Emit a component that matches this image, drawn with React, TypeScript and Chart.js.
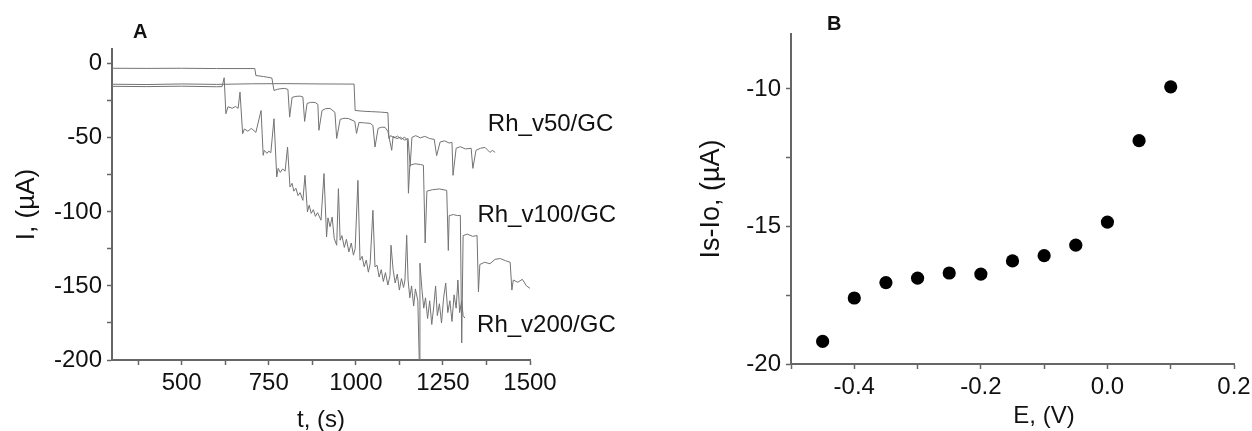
import React, { useEffect, useRef } from "react";
import { Chart, registerables } from "chart.js";

Chart.register(...registerables);

const FONT = "'Liberation Sans', Arial, Helvetica, sans-serif";
const TEXT = "#111111";
const AXIS = "#666666";
const LINE = "#737373";

// ---------- Panel A data ----------
const v50T = [300, 400, 500, 600, 710, 713, 735, 759, 765, 775, 785, 796, 805, 810, 817, 828, 840, 848, 853, 860, 870, 883, 891, 894, 903, 913, 926, 940, 945, 955, 966, 978, 997, 1002, 1009, 1025, 1041, 1049, 1055, 1064, 1074, 1084, 1092, 1103, 1107, 1118, 1128, 1140, 1150, 1156, 1161, 1172, 1185, 1198, 1212, 1225, 1232, 1242, 1255, 1268, 1276, 1279, 1288, 1300, 1315, 1331, 1336, 1345, 1358, 1371, 1385, 1392, 1400];
const v50I = [-3.0, -3.1, -3.0, -3.2, -3.2, -7.9, -8.6, -9.6, -18.0, -17.2, -16.8, -16.6, -17.3, -36.0, -22.7, -22.0, -21.8, -22.4, -38.9, -26.8, -26.0, -26.1, -27.4, -44.9, -31.5, -30.3, -30.1, -32.8, -50.4, -37.5, -36.8, -36.9, -38.9, -47.0, -39.6, -39.9, -40.2, -41.6, -56.2, -43.6, -42.8, -42.9, -45.6, -58.4, -49.0, -50.5, -49.5, -51.5, -50.5, -69.2, -49.7, -48.5, -50.0, -49.0, -50.5, -51.0, -62.0, -52.8, -52.0, -53.5, -53.0, -75.3, -57.0, -56.0, -57.5, -57.0, -70.6, -58.4, -57.0, -56.5, -59.8, -58.5, -59.8];

const v100T = [300, 400, 500, 600, 700, 800, 900, 995, 998, 1020, 1045, 1070, 1092, 1095, 1100, 1110, 1120, 1130, 1140, 1148, 1151, 1155, 1170, 1185, 1194, 1199, 1204, 1220, 1240, 1261, 1265.5, 1268, 1280, 1292, 1300, 1304, 1308, 1320, 1335, 1348, 1352, 1356, 1370, 1385, 1400, 1415, 1430, 1443, 1448, 1452, 1465, 1478, 1490, 1500];
const v100I = [-13.8, -14.0, -13.6, -13.9, -13.5, -13.4, -13.6, -13.7, -31.5, -32.0, -32.3, -32.6, -33.0, -50.4, -48.5, -50.0, -48.8, -51.0, -49.5, -51.5, -87.4, -68.5, -67.5, -68.0, -68.5, -121.0, -86.0, -85.0, -84.5, -85.5, -126.0, -102.5, -101.8, -102.5, -102.3, -188.5, -116.0, -115.0, -116.5, -116.0, -154.0, -135.5, -134.0, -135.0, -132.0, -131.5, -133.0, -134.0, -152.8, -146.0, -147.5, -145.5, -150.0, -151.6];

const v200T = [300, 400, 500, 600, 616, 622, 627, 633, 645, 655, 662, 667.5, 675, 680, 690, 700, 713, 728, 734, 737, 745, 750, 756, 765, 773, 777, 783, 790, 797, 804, 811, 817, 822, 828, 834, 840, 848, 854, 861, 866, 872, 878, 884, 890, 900, 908.6, 916, 920, 926, 932, 938, 945, 950, 955, 960, 967, 973, 980, 987, 993, 998, 1006, 1012, 1018, 1024, 1030, 1036, 1041, 1049, 1055, 1061, 1067, 1073, 1079, 1085, 1092, 1098, 1101, 1107, 1113, 1119, 1125, 1131, 1137, 1141, 1146, 1150, 1155, 1160, 1166, 1171, 1178, 1182, 1184, 1190, 1195, 1200, 1206, 1212, 1218, 1224, 1229, 1234, 1240, 1246, 1252, 1258, 1264, 1270, 1276, 1282, 1288, 1293, 1298, 1304, 1308, 1313];
const v200I = [-15.2, -15.4, -15.1, -15.5, -15.4, -9.4, -33.7, -29.0, -30.0, -28.8, -30.1, -19.1, -47.2, -44.0, -45.5, -43.6, -46.3, -31.5, -61.8, -58.4, -60.5, -59.0, -60.0, -37.1, -76.4, -70.6, -73.3, -71.0, -72.5, -56.2, -83.2, -80.7, -86.0, -84.0, -89.0, -87.0, -92.2, -75.3, -100.0, -95.5, -101.0, -98.5, -103.0, -100.5, -105.6, -74.1, -116.9, -104.0, -110.0, -103.5, -118.0, -122.5, -84.3, -119.1, -116.0, -124.0, -118.5, -127.0, -121.0, -129.2, -125.0, -78.7, -132.6, -130.0, -137.0, -132.5, -140.7, -135.0, -98.9, -137.1, -136.0, -144.0, -139.0, -147.0, -141.0, -149.4, -143.0, -122.5, -139.0, -148.0, -142.0, -152.8, -145.0, -151.0, -146.0, -115.8, -146.0, -158.0, -150.0, -163.6, -152.0, -160.0, -200.0, -134.6, -153.0, -165.0, -158.0, -172.0, -160.0, -176.0, -163.0, -150.0, -170.0, -162.0, -175.0, -158.0, -148.0, -168.0, -160.0, -174.0, -156.0, -165.0, -146.0, -168.0, -160.0, -170.0, -171.7];

const seriesNames = ["Rh_v50/GC", "Rh_v100/GC", "Rh_v200/GC"];
const nameAtT = [1379, 1349, 1348];
const nameAtI = [-45.6, -106.8, -181.0];

const aXTicks = [375, 500, 625, 750, 875, 1000, 1125, 1250, 1375, 1500];
const aXLabeled = [500, 750, 1000, 1250, 1500];
const aXLabelText = ["500", "750", "1000", "1250", "1500"];
const aYTicks = [-200, -175, -150, -125, -100, -75, -50, -25, 0];
const aYLabeled = [-200, -150, -100, -50, 0];
const aYLabelText = ["-200", "-150", "-100", "-50", "0"];

// ---------- Panel B data ----------
const bE = [-0.45, -0.4, -0.35, -0.3, -0.25, -0.2, -0.15, -0.1, -0.05, 0.0, 0.05, 0.1];
const bI = [-19.18, -17.6, -17.04, -16.88, -16.69, -16.73, -16.25, -16.06, -15.68, -14.84, -11.88, -9.92];

const bXTicks = [-0.5, -0.4, -0.3, -0.2, -0.1, 0, 0.1, 0.2];
const bXLabeled = [-0.4, -0.2, 0, 0.2];
const bXLabelText = ["-0.4", "-0.2", "0.0", "0.2"];
const bYTicks = [-20, -17.5, -15, -12.5, -10];
const bYLabeled = [-20, -15, -10];
const bYLabelText = ["-20", "-15", "-10"];

function labelFor(v: number, vals: number[], texts: string[]) {
  const i = vals.findIndex((x) => Math.abs(x - v) < 1e-9);
  return i >= 0 ? texts[i] : "";
}

function pts(xs: number[], ys: number[]) {
  return xs.map((x, i) => ({ x, y: ys[i] }));
}

function axisStyle(ticks: number[], labeled: number[], texts: string[], size: number, padding: number) {
  return {
    afterBuildTicks: (s: any) => {
      s.ticks = ticks.map((v) => ({ value: v }));
    },
    grid: {
      display: true,
      drawOnChartArea: false,
      drawTicks: true,
      tickLength: 5,
      tickColor: AXIS,
      tickWidth: 1.5,
    },
    border: { display: true, color: AXIS, width: 2 },
    ticks: {
      autoSkip: false,
      maxRotation: 0,
      minRotation: 0,
      padding,
      color: TEXT,
      font: { family: FONT, size },
      callback: (v: any) => labelFor(Number(v), labeled, texts),
    },
  };
}

function configA(): any {
  const ds = [
    pts(v50T, v50I),
    pts(v100T, v100I),
    pts(v200T, v200I),
  ].map((data, i) => ({
    label: seriesNames[i],
    data,
    borderColor: LINE,
    borderWidth: 1,
    pointRadius: 0,
    fill: false,
    tension: 0,
  }));
  const textPlugin = {
    id: "textA",
    afterDraw(chart: any) {
      const ctx = chart.ctx;
      const xs = chart.scales.x;
      const ys = chart.scales.y;
      ctx.save();
      ctx.fillStyle = TEXT;
      ctx.textBaseline = "alphabetic";
      ctx.textAlign = "left";
      ctx.font = `bold 20px ${FONT}`;
      ctx.fillText("A", chart.chartArea.left + 21, 37.5);
      ctx.font = `24px ${FONT}`;
      seriesNames.forEach((n, i) => {
        ctx.fillText(n, xs.getPixelForValue(nameAtT[i]), ys.getPixelForValue(nameAtI[i]));
      });
      ctx.restore();
    },
  };
  return {
    type: "line",
    data: { datasets: ds },
    plugins: [textPlugin],
    options: {
      animation: false,
      responsive: false,
      devicePixelRatio: 1,
      layout: { padding: { left: 0, top: 49, right: 110, bottom: 0 } },
      plugins: { legend: { display: false }, tooltip: { enabled: false } },
      scales: {
        x: {
          type: "linear",
          min: 300,
          max: 1500,
          ...axisStyle(aXTicks, aXLabeled, aXLabelText, 24, 4),
          afterFit: (s: any) => {
            s.height = 71;
            s.paddingLeft = 0;
            s.paddingRight = 0;
          },
          title: {
            display: true,
            text: "t, (s)",
            color: TEXT,
            font: { family: FONT, size: 24, lineHeight: 1 },
            padding: { top: 0, bottom: -1 },
          },
        },
        y: {
          type: "linear",
          min: -200,
          max: 10,
          ...axisStyle(aYTicks, aYLabeled, aYLabelText, 24, 5),
          afterFit: (s: any) => {
            s.width = 112;
            s.paddingTop = 0;
            s.paddingBottom = 0;
          },
          title: {
            display: true,
            text: "I, (µA)",
            color: TEXT,
            font: { family: FONT, size: 26, lineHeight: 1.2 },
            padding: { top: 11, bottom: 0 },
          },
        },
      },
    },
  };
}

function configB(): any {
  const textPlugin = {
    id: "textB",
    afterDraw(chart: any) {
      const ctx = chart.ctx;
      ctx.save();
      ctx.fillStyle = TEXT;
      ctx.textBaseline = "alphabetic";
      ctx.textAlign = "left";
      ctx.font = `bold 20px ${FONT}`;
      ctx.fillText("B", chart.chartArea.left + 36, 29.5);
      ctx.font = `24px ${FONT}`;
      ctx.textAlign = "center";
      ctx.textBaseline = "middle";
      ctx.fillText("E, (V)", chart.chartArea.left + 253, 416);
      ctx.restore();
    },
  };
  return {
    type: "scatter",
    data: {
      datasets: [
        {
          label: "Is-Io",
          data: pts(bE, bI),
          backgroundColor: "#000000",
          borderColor: "#000000",
          pointRadius: 6.6,
          pointBorderWidth: 0,
          showLine: false,
        },
      ],
    },
    plugins: [textPlugin],
    options: {
      animation: false,
      responsive: false,
      devicePixelRatio: 1,
      layout: { padding: { left: 0, top: 34, right: 18, bottom: 0 } },
      plugins: { legend: { display: false }, tooltip: { enabled: false } },
      scales: {
        x: {
          type: "linear",
          min: -0.5,
          max: 0.2,
          ...axisStyle(bXTicks, bXLabeled, bXLabelText, 24, 4),
          afterFit: (s: any) => {
            s.height = 67;
            s.paddingLeft = 0;
            s.paddingRight = 0;
          },
        },
        y: {
          type: "linear",
          min: -20,
          max: -8,
          ...axisStyle(bYTicks, bYLabeled, bYLabelText, 24, 5),
          afterFit: (s: any) => {
            s.width = 151;
            s.paddingTop = 0;
            s.paddingBottom = 0;
          },
          title: {
            display: true,
            text: "Is-Io, (µA)",
            color: TEXT,
            font: { family: FONT, size: 27, lineHeight: 1.2 },
            padding: { top: 55, bottom: 0 },
          },
        },
      },
    },
  };
}

function Panel({ left, width, height, make }: { left: number; width: number; height: number; make: () => any }) {
  const ref = useRef<HTMLCanvasElement>(null);
  useEffect(() => {
    const chart = new Chart(ref.current as HTMLCanvasElement, make());
    return () => chart.destroy();
  }, []);
  return (
    <canvas
      ref={ref}
      width={width}
      height={height}
      style={{ position: "absolute", left, top: 0, width, height, display: "block" }}
    />
  );
}

export default function App() {
  return (
    <div
      style={{
        position: "fixed",
        left: 0,
        top: 0,
        width: 1252,
        height: 431,
        background: "#ffffff",
        overflow: "hidden",
      }}
    >
      <Panel left={0} width={640} height={431} make={configA} />
      <Panel left={640} width={612} height={431} make={configB} />
    </div>
  );
}
